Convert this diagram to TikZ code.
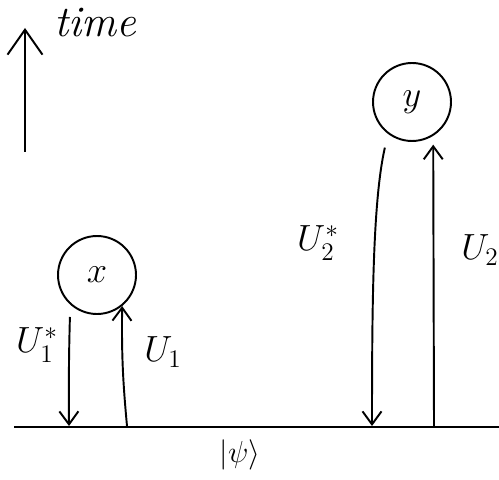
\documentclass[tikz,border=0pt]{standalone}
\usetikzlibrary{positioning, arrows.meta}

\begin{document}
\begin{tikzpicture}[
    x=0.02cm, y=-0.02cm,
    % Estilos para los nodos
    estado/.style={circle, draw, line width=1.1pt, minimum size=1.56cm, inner sep=0pt, font=\huge},
    flecha/.style={line width=1.1pt, -{Straight Barb[length=0.26cm, width=0.38cm]}},
    linea/.style={line width=1.2pt},
    etiqueta/.style={font=\huge},
    ]
    \useasboundingbox (0,0) rectangle (499,479);

    % Eje del tiempo
    \coordinate (t_abajo) at (25,152);
    \coordinate (t_arriba) at (25,28);
    \draw[line width=1.1pt, -{Straight Barb[length=0.5cm, width=0.7cm]}] (t_abajo) -- (t_arriba);
    \node[font=\Huge\itshape, anchor=base west, inner sep=0pt] (tiempo) at (54,37) {time};

    % Estado inicial (linea base)
    \coordinate (base_izq) at (14,427);
    \coordinate (base_der) at (499,427);
    \draw[linea] (base_izq) -- (base_der);
    \node[font=\LARGE] (psi) at (240,455) {$|\psi\rangle$};

    % Estados x e y
    \node[estado] (x) at (97,275) {$x$};
    \node[estado] (y) at (412,102) {$y$};

    % Puntos sobre la linea base
    \coordinate (b1) at (69,426);
    \coordinate (b2) at (127,426);
    \coordinate (b3) at (372,426);
    \coordinate (b4) at (434,426);

    % Evolucion hacia x
    \draw[flecha, shorten <=7pt] (x.228) to[bend right=1] (b1);
    \draw[flecha] (b2) to[bend left=3] (x.-51);
    \node[etiqueta] (u1s) at (37,345) {$U_1^*$};
    \node[etiqueta] (u1) at (163,352) {$U_1$};

    % Evolucion hacia y
    \draw[flecha, shorten <=8pt] (y.233) .. controls (373,200) and (372,300) .. (b3);
    \draw[flecha, shorten >=5pt] (b4) -- (y.-58);
    \node[etiqueta] (u2s) at (318,243) {$U_2^*$};
    \node[etiqueta] (u2) at (480,250) {$U_2$};

\end{tikzpicture}
\end{document}
